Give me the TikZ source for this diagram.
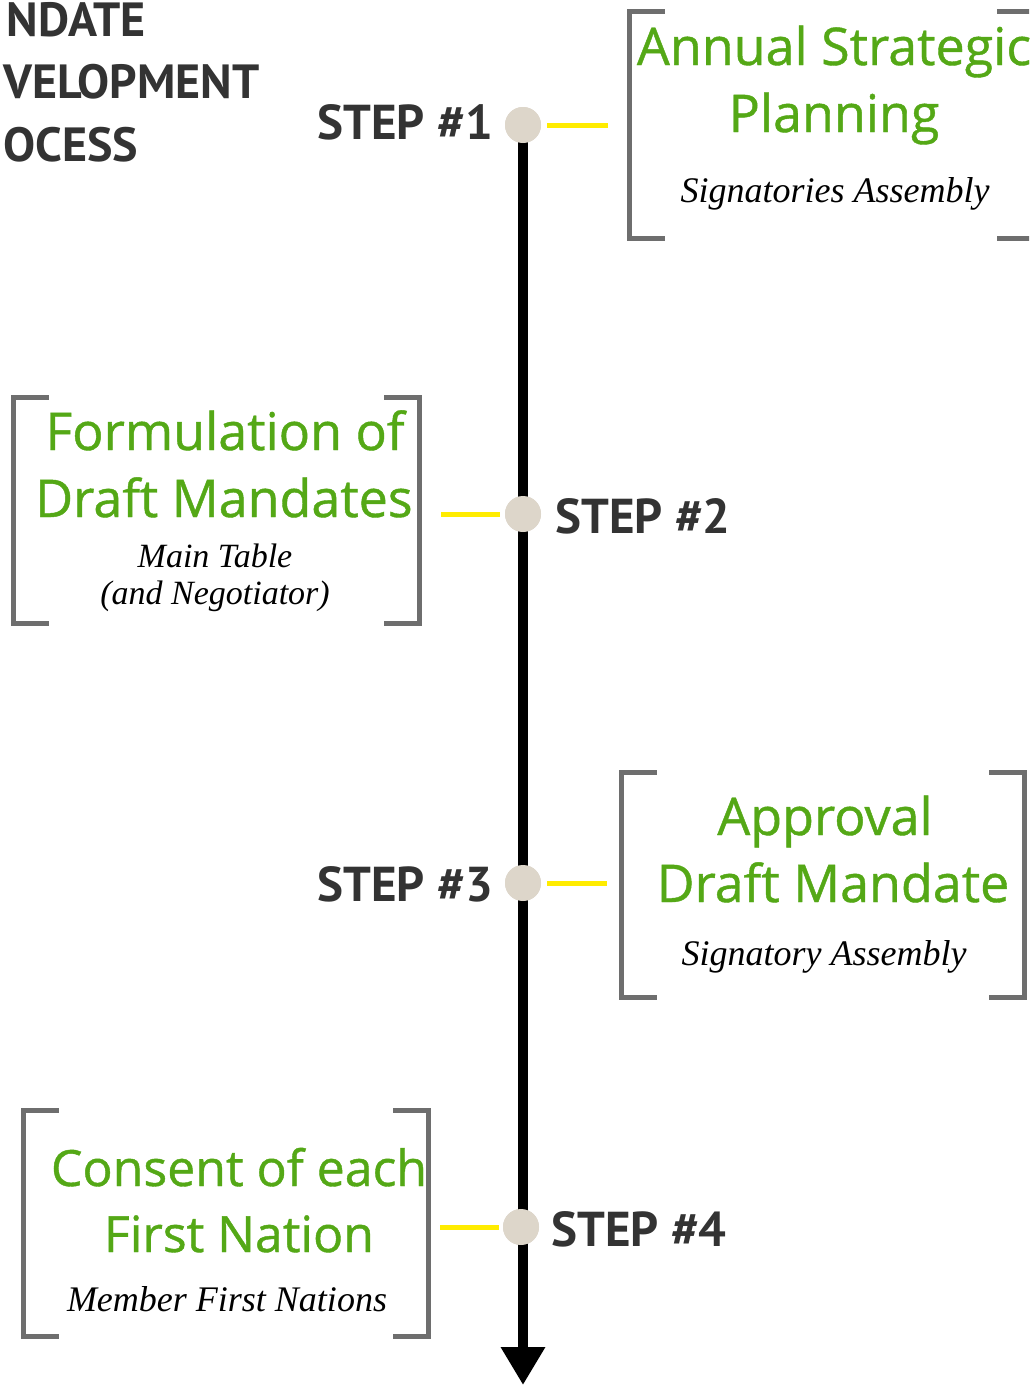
\documentclass[tikz,border=0pt]{standalone}
\usepackage{fontspec}
\setmainfont{Open Sans}
\newfontfamily\greenfont{Open Sans}[FakeBold=0.8]
\newfontfamily\ptsans{PT Sans}
\newfontfamily\serifit{Liberation Serif}
\usetikzlibrary{arrows.meta}
\definecolor{stepgray}{RGB}{51,51,51}
\definecolor{greentxt}{RGB}{84,168,22}
\definecolor{brkgray}{RGB}{110,110,110}
\definecolor{yelline}{RGB}{255,236,0}
\definecolor{dotbeige}{RGB}{221,214,202}
\tikzset{
  steplabel/.style={font=\ptsans\bfseries\fontsize{49}{58}\selectfont, text=stepgray, inner sep=0pt},
  titletxt/.style={font=\ptsans\bfseries\fontsize{48}{58}\selectfont, text=stepgray, inner sep=0pt},
  greenline/.style={font=\greenfont\fontsize{52}{67}\selectfont, text=greentxt, inner sep=0pt, anchor=base},
  subline/.style={font=\serifit\itshape\fontsize{36}{32}\selectfont, text=black, inner sep=0pt, anchor=base},
  brk/.style={draw=brkgray, line width=5pt},
  boxarea/.style={draw=none, rectangle, inner sep=0pt},
  dot/.style={circle, fill=dotbeige, minimum size=36pt, inner sep=0pt},
  yel/.style={draw=yelline, line width=5pt},
  axis/.style={line width=10pt, -{Triangle[width=42pt,length=38pt]}}
}
\begin{document}
\begin{tikzpicture}[x=1pt,y=-1pt]
\useasboundingbox (0,0) rectangle (1029,1385);
\fill[white] (0,0) rectangle (1029,1385);

% title (as far as the picture shows it)
\node[titletxt, anchor=base east] (t1) at (146,36) {NDATE};
\node[titletxt, anchor=base west] (t2) at (3,98) {VELOPMENT};
\node[titletxt, anchor=base west] (t3) at (3,161) {OCESS};

% timeline
\coordinate (tip) at (523,1385);
\node[dot] (c1) at (523,125) {};
\node[dot] (c2) at (523,514) {};
\node[dot] (c3) at (523,883) {};
\node[dot] (c4) at (521,1227) {};
\draw[axis] (c1.center) -- (tip);
\node[dot] at (c1) {};
\node[dot] at (c2) {};
\node[dot] at (c3) {};
\node[dot] at (c4) {};

% step labels
\node[steplabel, anchor=base east] (s1) at (493,139) {STEP \#1};
\node[steplabel, anchor=base west] (s2) at (555,533) {STEP \#2};
\node[steplabel, anchor=base east] (s3) at (493,901) {STEP \#3};
\node[steplabel, anchor=base west] (s4) at (551,1246) {STEP \#4};

% bracket areas
\node[boxarea, minimum width=402pt, minimum height=226pt] (b1) at (831,125) {};
\node[boxarea, minimum width=405pt, minimum height=225pt] (b2) at (216.5,510.5) {};
\node[boxarea, minimum width=402pt, minimum height=224pt] (b3) at (823,885) {};
\node[boxarea, minimum width=404pt, minimum height=225pt] (b4) at (226,1223.5) {};

\begin{scope}
\clip (0,0) rectangle (1029,1385);
\foreach \b in {b1,b2,b3,b4}{
  \draw[brk] ([xshift=35pt]\b.north west) -- (\b.north west) -- (\b.south west) -- ([xshift=35pt]\b.south west);
  \draw[brk] ([xshift=-35pt]\b.north east) -- (\b.north east) -- (\b.south east) -- ([xshift=-35pt]\b.south east);
}
\end{scope}

% yellow connectors
\draw[yel, shorten <=6pt, shorten >=22pt] (c1.east) -- (b1.west |- c1);
\draw[yel, shorten <=5pt, shorten >=22pt] (c2.west) -- (b2.east |- c2);
\draw[yel, shorten <=6pt, shorten >=15pt] (c3.east) -- (b3.west |- c3);
\draw[yel, shorten <=4pt, shorten >=12pt] (c4.west) -- (b4.east |- c4);

% box 1
\node[greenline] (g1a) at (834,65) {Annual Strategic};
\node[greenline] (g1b) at (834,132) {Planning};
\node[subline] (i1) at (835,202) {Signatories Assembly};
% box 2
\node[greenline] (g2a) at (225,450) {Formulation of};
\node[greenline] (g2b) at (224,517) {Draft Mandates};
\node[subline, align=center, anchor=center, font=\serifit\itshape\fontsize{34}{37}\selectfont] (i2) at (215,578) {Main Table\\(and Negotiator)};
% box 3
\node[greenline] (g3a) at (825,835) {Approval};
\node[greenline] (g3b) at (833,902) {Draft Mandate};
\node[subline] (i3) at (824,965) {Signatory Assembly};
% box 4
\node[greenline, font=\greenfont\fontsize{50}{67}\selectfont] (g4a) at (239,1186) {Consent of each};
\node[greenline, font=\greenfont\fontsize{50}{67}\selectfont] (g4b) at (239,1252) {First Nation};
\node[subline] (i4) at (227,1311) {Member First Nations};
\end{tikzpicture}
\end{document}
